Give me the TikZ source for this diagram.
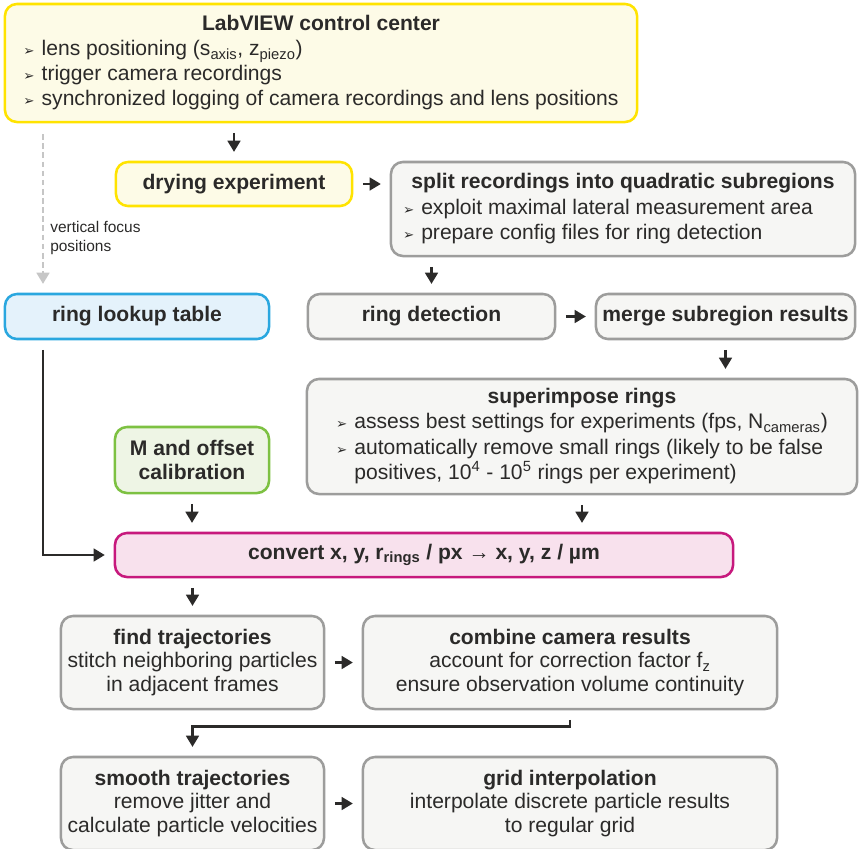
\documentclass[tikz,border=0pt]{standalone}
\usepackage{fontspec}
\setmainfont{Liberation Sans}
\newfontfamily\symfont{DejaVu Sans}
\usepackage{tikz}
\usetikzlibrary{arrows.meta, positioning}
\definecolor{txt}{HTML}{2B2A29}
\definecolor{yelbd}{HTML}{FFE300}
\definecolor{yelfl}{HTML}{FDFBE7}
\definecolor{grybd}{HTML}{9D9D9C}
\definecolor{gryfl}{HTML}{F6F6F4}
\definecolor{blubd}{HTML}{2AA7DF}
\definecolor{blufl}{HTML}{E4F2FB}
\definecolor{grnbd}{HTML}{7DC142}
\definecolor{grnfl}{HTML}{EEF5E5}
\definecolor{magbd}{HTML}{C7197D}
\definecolor{magfl}{HTML}{F8E1ED}
\definecolor{dashgry}{HTML}{C6C6C6}
\newcommand{\bul}{{\symfont\fontsize{9.5}{9.5}\selectfont ➢}}
\renewcommand{\arraystretch}{1.05}
\tikzset{>={Triangle[length=8pt,width=9pt]}}

\begin{document}
\begin{tikzpicture}[x=0.025cm, y=-0.025cm, font=\fontsize{15}{17}\selectfont, text=txt,
    box/.style={rounded corners=0.3cm, line width=1.8pt, draw=grybd, fill=gryfl, inner sep=2pt, align=center},
    yelbox/.style={box, draw=yelbd, fill=yelfl},
    blubox/.style={box, draw=blubd, fill=blufl},
    grnbox/.style={box, draw=grnbd, fill=grnfl},
    magbox/.style={box, draw=magbd, fill=magfl},
    arr/.style={->, line width=1.9pt, draw=txt, shorten <=0.24cm, shorten >=0.22cm},
    dasharr/.style={->, line width=1.9pt, draw=dashgry, dash pattern=on 4pt off 2.5pt, shorten <=0.27cm, shorten >=0.22cm}]

      \useasboundingbox (0,0) rectangle (859,848);

      \node[yelbox, minimum width=15.8cm, minimum height=2.95cm] (lab) at (321,63)
        {\begin{tabular}{@{}l@{\hspace{5pt}}l@{}}
         \multicolumn{2}{c}{\bfseries LabVIEW control center}\\
         \bul & lens positioning (s\textsubscript{axis}, z\textsubscript{piezo})\\
         \bul & trigger camera recordings\\
         \bul & synchronized logging of camera recordings and lens positions
         \end{tabular}};
      \node[yelbox, minimum width=5.9cm, minimum height=1.1cm] (dry) at (234,184) {\bfseries drying experiment};
      \node[box, minimum width=11.6cm, minimum height=2.35cm] (split) at (623,209)
        {\begin{tabular}{@{}l@{\hspace{5pt}}l@{}}
         \multicolumn{2}{c}{\bfseries split recordings into quadratic subregions}\\
         \bul & exploit maximal lateral measurement area\\
         \bul & prepare config files for ring detection
         \end{tabular}};
      \node[blubox, minimum width=6.6cm, minimum height=1.125cm] (lup) at (137,316.5) {\bfseries ring lookup table};
      \node[box, minimum width=6.175cm, minimum height=1.125cm] (rdet) at (431.5,316.5) {\bfseries ring detection};
      \node[box, minimum width=6.475cm, minimum height=1.125cm] (merge) at (725.5,316.5) {\bfseries merge subregion results};
      \node[box, minimum width=13.75cm, minimum height=2.875cm] (sup) at (582,436.5)
        {\begin{tabular}{@{}l@{\hspace{5pt}}l@{}}
         \multicolumn{2}{c}{\bfseries superimpose rings}\\
         \bul & assess best settings for experiments (fps, N\textsubscript{cameras})\\
         \bul & automatically remove small rings (likely to be false\\
              & positives, 10\textsuperscript{4} - 10\textsuperscript{5} rings per experiment)
         \end{tabular}};
      \node[grnbox, minimum width=3.85cm, minimum height=1.65cm] (cal) at (192,460) {\bfseries M and offset\\\bfseries calibration};
      \node[magbox, minimum width=15.45cm, minimum height=1.1cm] (conv) at (424,555)
        {\bfseries convert x, y, r\textsubscript{rings} / px → x, y, z / µm};
      \node[box, minimum width=6.575cm, minimum height=2.325cm] (find) at (192.5,662.5)
        {\textbf{find trajectories}\\stitch neighboring particles\\in adjacent frames};
      \node[box, minimum width=10.35cm, minimum height=2.325cm] (comb) at (570,662.5)
        {\textbf{combine camera results}\\account for correction factor f\textsubscript{z}\\ensure observation volume continuity};
      \node[box, minimum width=6.575cm, minimum height=2.325cm] (smooth) at (192.5,803.5)
        {\textbf{smooth trajectories}\\remove jitter and\\calculate particle velocities};
      \node[box, minimum width=10.35cm, minimum height=2.325cm] (grid) at (570,803.5)
        {\textbf{grid interpolation}\\interpolate discrete particle results\\to regular grid};

      \coordinate (fl) at (43,130);
      \node[anchor=north west, align=left, inner sep=0pt, font=\fontsize{11}{13.5}\selectfont] (vfp) at (50,221) {vertical focus\\positions};

      \draw[dasharr] (lab.south -| fl) -- (lup.north -| fl);
      \draw[arr] (lab.south -| dry.north) -- (dry.north);
      \draw[arr] (dry.east) -- (split.west |- dry.east);
      \draw[arr] (split.south -| rdet.north) -- (rdet.north);
      \draw[arr] (rdet.east) -- (merge.west);
      \draw[arr] (merge.south) -- (merge.south |- sup.north);
      \draw[arr] (lup.south -| fl) |- (conv.west);
      \draw[arr] (cal.south) -- (cal.south |- conv.north);
      \draw[arr] (sup.south) -- (sup.south |- conv.north);
      \draw[arr] (conv.south -| find.north) -- (find.north);
      \draw[arr] (find.east) -- (comb.west);
      \draw[arr] (comb.south) -- ++(0,16) -| (smooth.north);
      \draw[arr] (smooth.east) -- (grid.west);
      \end{tikzpicture}
\end{document}
